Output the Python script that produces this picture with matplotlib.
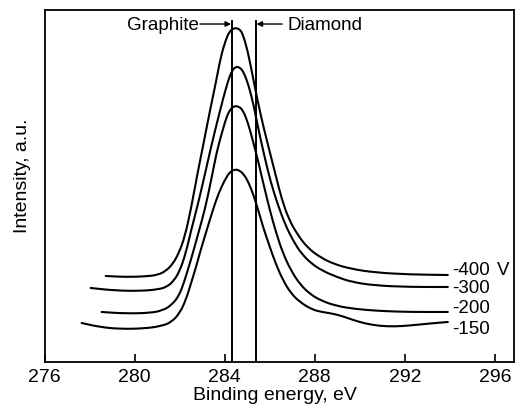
import matplotlib
matplotlib.use("Agg")
import matplotlib.pyplot as plt
from matplotlib.path import Path
from matplotlib.patches import PathPatch

plt.rcParams['font.family'] = ['Liberation Sans', 'DejaVu Sans']

# spectres C1s (energie de liaison en eV, intensite u.a.)
be_400 = [278.71, 279.56, 280.44, 281.02, 281.38, 281.69, 281.96, 282.22, 282.49, 282.80,
          283.07, 283.33, 283.60, 283.82, 284.04, 284.22, 284.40, 284.51, 284.67, 284.80,
          285.02, 285.24, 285.47, 285.73, 286.00, 286.27, 286.53, 286.84, 287.24, 287.69,
          288.22, 288.84, 289.64, 290.67, 292.22, 293.91]
int_400 = [86, 85, 85.5, 87, 91, 98, 109, 125, 152, 190,
           220, 250, 279, 305, 322, 331, 333.5, 334, 332.5, 328,
           311, 286, 260, 234, 210, 186, 163, 143, 127, 114,
           105, 98, 93, 89.5, 87.5, 87]

be_300 = [278.04, 279.11, 280.22, 281.02, 281.42, 281.73, 282.00, 282.27, 282.53, 282.80,
          283.11, 283.38, 283.64, 283.91, 284.13, 284.31, 284.49, 284.67, 284.84, 285.07,
          285.29, 285.51, 285.78, 286.04, 286.36, 286.71, 287.07, 287.42, 287.87, 288.36,
          288.98, 289.64, 290.67, 292.22, 293.91]
int_300 = [74, 71.5, 71, 72.5, 75, 81, 91, 109, 134, 157,
           187, 214, 238, 262, 280, 291, 295.5, 294.5, 290, 276,
           256, 231, 204, 180, 157, 136, 120, 108, 98, 91,
           85, 80, 76.5, 75, 75]

be_200 = [278.53, 279.56, 280.67, 281.24, 281.64, 281.96, 282.18, 282.40, 282.62, 282.84,
          283.11, 283.38, 283.64, 283.87, 284.09, 284.27, 284.44, 284.62, 284.80, 285.02,
          285.24, 285.47, 285.73, 286.00, 286.27, 286.58, 286.93, 287.33, 287.78, 288.31,
          288.98, 289.78, 290.89, 292.22, 293.91]
int_200 = [50, 48.5, 49, 51.5, 57, 66, 79, 95, 112, 130,
           152, 180, 210, 229, 246, 253.5, 256, 255.5, 252, 240,
           222, 202, 177, 152, 130, 109, 92, 78, 68, 61,
           56, 53, 51, 50, 50]

be_150 = [277.64, 278.44, 279.33, 280.44, 281.20, 281.64, 282.00, 282.27, 282.49, 282.71,
          282.93, 283.20, 283.47, 283.73, 284.00, 284.22, 284.44, 284.62, 284.84, 285.07,
          285.29, 285.51, 285.73, 286.00, 286.27, 286.58, 286.93, 287.33, 287.87, 288.31,
          288.76, 289.20, 289.64, 290.22, 290.89, 291.56, 292.22, 293.11, 293.91]
int_150 = [39, 35, 33, 33.5, 36, 40, 49, 62, 78, 94,
           112, 132, 152, 169, 182, 190, 192.5, 192, 188, 179,
           166, 150, 133, 115, 98, 82, 69, 60, 52.5, 50,
           48.5, 46, 42.5, 38.5, 36, 35.5, 36.5, 38.5, 40]

# etiquettes des courbes (tension de polarisation)
bias_labels = ['-400', '-300', '-200', '-150']
label_y = [91, 73.5, 53.5, 32]

# positions des pics de reference
graphite_be = 284.31
diamond_be = 285.38

xticks = [276, 280, 284, 288, 292, 296]


def trace_lisse(ax, xs, ys):
    # trace lisse : les points lus servent de points de controle (Bezier quadratique)
    verts = [(xs[0], ys[0]), ((xs[0] + xs[1]) / 2, (ys[0] + ys[1]) / 2)]
    codes = [Path.MOVETO, Path.LINETO]
    for i in range(1, len(xs) - 1):
        verts += [(xs[i], ys[i]), ((xs[i] + xs[i + 1]) / 2, (ys[i] + ys[i + 1]) / 2)]
        codes += [Path.CURVE3, Path.CURVE3]
    verts.append((xs[-1], ys[-1]))
    codes.append(Path.LINETO)
    ax.add_patch(PathPatch(Path(verts, codes), fill=False, edgecolor='black',
                           linewidth=1.5, capstyle='round', joinstyle='round'))


fig = plt.figure(figsize=(5.21, 4.07), dpi=100)
ax = fig.add_axes([0.0858, 0.1106, 0.9008, 0.8648])

for be, inten in [(be_400, int_400), (be_300, int_300), (be_200, int_200), (be_150, int_150)]:
    trace_lisse(ax, be, inten)

# lignes verticales graphite / diamant
ax.plot([graphite_be, graphite_be], [0, 341], color='black', linewidth=1.4)
ax.plot([diamond_be, diamond_be], [0, 341], color='black', linewidth=1.4)

ax.annotate('', xy=(graphite_be - 0.03, 338), xytext=(282.9, 338),
            arrowprops=dict(arrowstyle='-|>', color='black', lw=1.0, mutation_scale=8,
                            shrinkA=0, shrinkB=0))
ax.text(282.85, 337, 'Graphite', ha='right', va='center', fontsize=13.5)
ax.annotate('', xy=(diamond_be + 0.03, 338), xytext=(286.55, 338),
            arrowprops=dict(arrowstyle='-|>', color='black', lw=1.0, mutation_scale=8,
                            shrinkA=0, shrinkB=0))
ax.text(286.8, 337, 'Diamond', ha='left', va='center', fontsize=13.5)

for lab, y in zip(bias_labels, label_y):
    ax.text(294.1, y, lab, ha='left', va='center', fontsize=13.5)
ax.text(296.1, 91, 'V', ha='left', va='center', fontsize=13.5)

ax.set_xlim(276, 296.85)
ax.set_ylim(0, 352)
ax.set_xticks(xticks)
ax.set_yticks([])
ax.tick_params(axis='x', direction='in', length=6, width=1.2, labelsize=14, pad=5)
for sp in ax.spines.values():
    sp.set_linewidth(1.3)

ax.set_xlabel('Binding energy, eV', fontsize=14)
ax.xaxis.set_label_coords(0.49, -0.07, transform=ax.transAxes)
ax.xaxis.label.set_va('top')
ax.set_ylabel('Intensity, a.u.', fontsize=14)
ax.yaxis.set_label_coords(-0.03, 0.53)

fig.savefig('out.png', dpi=100)
